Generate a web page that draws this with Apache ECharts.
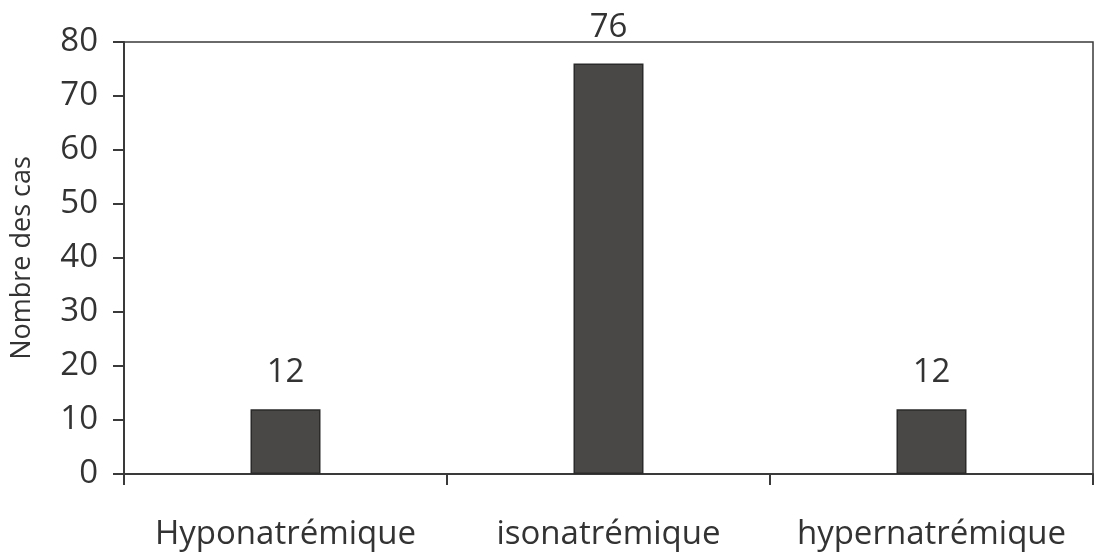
<!DOCTYPE html>
<html><head><meta charset="utf-8">
<script src="https://cdn.jsdelivr.net/npm/echarts@6/dist/echarts.min.js"></script>
<style>html,body{margin:0;padding:0;background:#fff}#c{width:1097px;height:555px}</style>
</head><body><div id="c"></div>
<script>
const categories = ['Hyponatrémique', 'isonatrémique', 'hypernatrémique'];
const values = [12, 76, 12];
const yTicks = [0, 80, 10];
const yTitle = 'Nombre des cas';

const chart = echarts.init(document.getElementById('c'), null, {renderer: 'canvas'});
const font = 'Open Sans';
chart.setOption({
  animation: false,
  grid: {left: 124, right: 4, top: 42, bottom: 81, show: true, borderColor: '#3a3a3a', borderWidth: 1.5, backgroundColor: 'transparent'},
  xAxis: {
    type: 'category', data: categories,
    axisLine: {lineStyle: {color: '#3a3a3a', width: 2}},
    axisTick: {show: true, interval: 0, length: 11, lineStyle: {color: '#3a3a3a', width: 2}},
    axisLabel: {color: '#333', fontSize: 33, fontFamily: font, margin: 44, interval: 0, hideOverlap: false}
  },
  yAxis: {
    type: 'value', min: yTicks[0], max: yTicks[1], interval: yTicks[2],
    name: yTitle, nameLocation: 'middle', nameGap: 88, nameRotate: 90,
    nameTextStyle: {color: '#333', fontSize: 27, fontFamily: font},
    axisLine: {show: true, lineStyle: {color: '#3a3a3a', width: 2}},
    axisTick: {show: true, length: 11, lineStyle: {color: '#3a3a3a', width: 2}},
    axisLabel: {color: '#333', fontSize: 33, fontFamily: font, margin: 26},
    splitLine: {show: false}
  },
  series: [{
    type: 'bar', data: values, barWidth: 70,
    itemStyle: {color: '#4a4846', borderColor: '#2a2a2a', borderWidth: 1.5},
    label: {show: true, position: 'top', distance: 20, color: '#333', fontSize: 33, fontFamily: font}
  }]
});
</script></body></html>
